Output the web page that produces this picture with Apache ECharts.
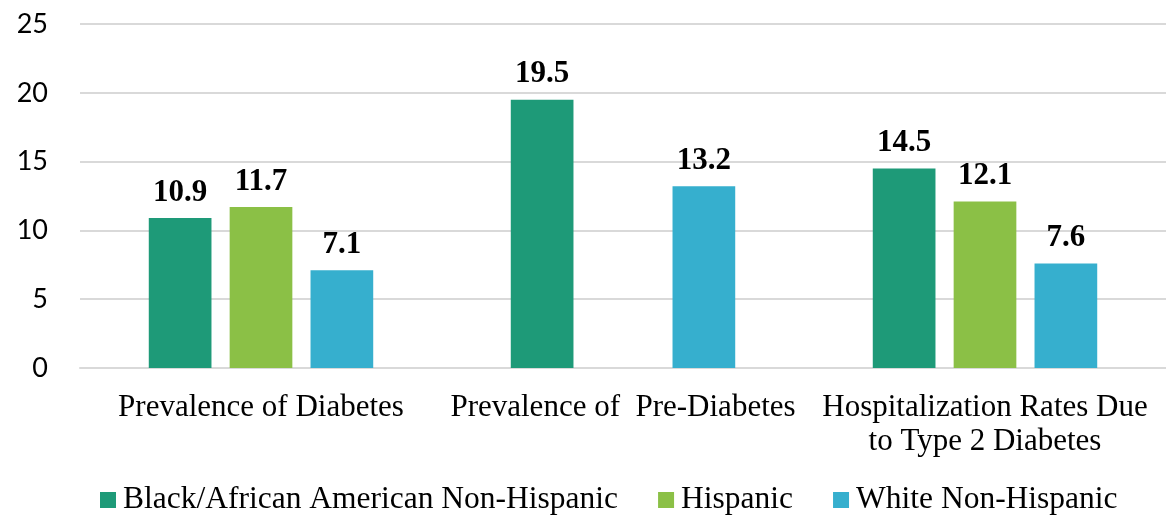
<!DOCTYPE html>
<html>
<head>
<meta charset="utf-8">
<script src="https://cdn.jsdelivr.net/npm/echarts@6/dist/echarts.min.js"></script>
<style>
    html, body { margin: 0; padding: 0; background: #fff; }
    #chart { width: 1166px; height: 517px; }
</style>
</head>
<body>
<div id="chart"></div>
<script>
// 类别
var categories = ['Prevalence of Diabetes', 'Prevalence of  Pre-Diabetes', 'Hospitalization Rates Due\nto Type 2 Diabetes'];
// 各系列数据
var blackData = [10.9, 19.5, 14.5];
var hispanicData = [11.7, null, 12.1];
var whiteData = [7.1, 13.2, 7.6];
var seriesNames = ['Black/African American Non-Hispanic', 'Hispanic', 'White Non-Hispanic'];
var yTicks = [0, 5, 10, 15, 20, 25];

var myChart = echarts.init(document.getElementById('chart'));

var serif = '"Liberation Serif", "Times New Roman", serif';

function barSeries(name, data, color) {
    return {
        name: name,
        type: 'bar',
        data: data,
        barGap: '29%',
        barCategoryGap: '38%',
        itemStyle: { color: color },
        label: {
            show: true,
            position: 'top',
            distance: 10,
            fontFamily: serif,
            fontWeight: 'bold',
            fontSize: 31,
            color: '#000',
            formatter: function (p) { return p.value.toFixed(1); }
        }
    };
}

var option = {
    animation: false,
    color: ['#1E9A78', '#8BC046', '#36AFCE'],
    grid: {
        left: 80,
        right: 0,
        top: 24,
        bottom: 149,
        containLabel: false
    },
    legend: {
        data: seriesNames,
        bottom: -4,
        left: 95,
        icon: 'rect',
        itemWidth: 16,
        itemHeight: 16,
        itemGap: 40,
        textStyle: {
            fontFamily: serif,
            fontSize: 31.5,
            color: '#000',
            padding: [0, 0, 0, 2]
        }
    },
    xAxis: {
        type: 'category',
        data: categories,
        axisLine: { show: true, lineStyle: { color: '#d9d9d9', width: 2 } },
        axisTick: { show: false },
        axisLabel: {
            fontFamily: serif,
            fontSize: 31,
            color: '#000',
            margin: 23,
            lineHeight: 34,
            interval: 0
        }
    },
    yAxis: {
        type: 'value',
        min: yTicks[0],
        max: yTicks[yTicks.length - 1],
        interval: 5,
        axisLine: { show: false },
        axisTick: { show: false },
        splitLine: { lineStyle: { color: '#d9d9d9', width: 2 } },
        axisLabel: {
            fontFamily: 'Lato, "Open Sans", sans-serif',
            fontSize: 27,
            color: '#000',
            margin: 32
        }
    },
    series: [
        barSeries(seriesNames[0], blackData, '#1E9A78'),
        barSeries(seriesNames[1], hispanicData, '#8BC046'),
        barSeries(seriesNames[2], whiteData, '#36AFCE')
    ]
};

myChart.setOption(option);
</script>
</body>
</html>
